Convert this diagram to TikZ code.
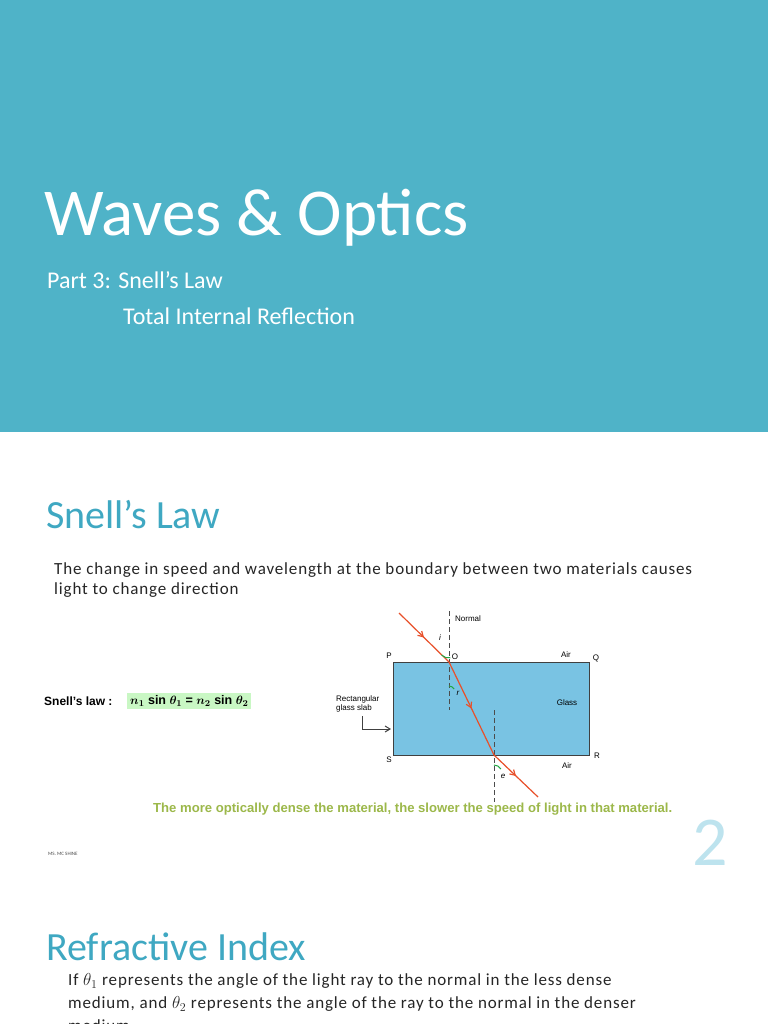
\documentclass[tikz,border=0pt]{standalone}
\usepackage{amsmath}
\usepackage{fontspec}
\setmainfont{Carlito}
\newfontfamily\arial{Liberation Sans}
\newfontfamily\bodyf[LetterSpace=5]{Carlito}
\usetikzlibrary{arrows.meta,decorations.markings}
\definecolor{band}{HTML}{4FB3C8}
\definecolor{head}{HTML}{3FA8C2}
\definecolor{glass}{HTML}{79C3E3}
\definecolor{ray}{HTML}{E8502A}
\definecolor{angc}{HTML}{22A845}
\definecolor{eqbg}{HTML}{C9F7C4}
\definecolor{olive}{HTML}{9CB84A}
\definecolor{numc}{HTML}{BDE3EE}
\begin{document}
\begin{tikzpicture}[x=1pt,y=-1pt,
  lbl/.style={font=\arial\fontsize{8}{9}\selectfont,inner sep=0pt},
  body/.style={font=\bodyf\fontsize{17}{20}\selectfont,anchor=west,inner sep=0pt,text=black!85},
  headt/.style={font=\fontsize{40}{44}\selectfont,anchor=west,inner sep=0pt,text=head},
  normal/.style={dashed,dash pattern=on 5pt off 3pt,line width=0.9pt,draw=black!70},
  mid/.style={postaction={decorate},decoration={markings,mark=at position 0.5 with {\arrow{Straight Barb[length=5pt,width=6pt]}}}}]
\useasboundingbox (0,0) rectangle (768,1024);
\fill[white] (0,0) rectangle (768,1024);
\fill[band] (0,0) rectangle (768,432);
\node[anchor=west,inner sep=0pt,text=white,font=\fontsize{67}{70}\selectfont] (title) at (44,218) {Waves \& Optics};
\node[anchor=west,inner sep=0pt,text=white,font=\fontsize{24}{28}\selectfont] (p3) at (47,280) {Part 3: Snell’s Law};
\node[anchor=west,inner sep=0pt,text=white,font=\fontsize{24}{28}\selectfont] (tir) at (123,316) {Total Internal Reflection};
\node[headt] (sl) at (46,515) {Snell’s Law};
\node[body] (t1) at (54,570) {The change in speed and wavelength at the boundary between two materials causes};
\node[body] (t2) at (54,590) {light to change direction};
% equation
\node[lbl,font=\arial\bfseries\fontsize{12}{14}\selectfont,anchor=west] (slw) at (44,701) {Snell’s law :};
\node[fill=eqbg,anchor=west,inner sep=3pt,font=\arial\bfseries\fontsize{12.5}{14}\selectfont] (eq) at (127,701) {$\boldsymbol{n_1}$ sin $\boldsymbol{\theta_1}$ = $\boldsymbol{n_2}$ sin $\boldsymbol{\theta_2}$};
% slab
\draw[fill=glass,draw=black!75,line width=1pt] (393,662) rectangle (589,755);
\coordinate (O) at (449,662);
\coordinate (X) at (494,755);
\coordinate (S0) at (399,613);
\coordinate (E) at (538,797);
\draw[normal] (449,611) -- (449,710);
\draw[normal] (494,710) -- (494,802);
\draw[ray,line width=1.2pt,mid] (S0) -- (O);
\draw[ray,line width=1.2pt,mid] (O) -- (X);
\draw[ray,line width=1.2pt,mid] (X) -- (E);
\draw[angc,line width=1pt] (441.5,655) arc[start angle=135,end angle=80,radius=10];
\draw[angc,line width=1pt] (449,686) arc[start angle=-90,end angle=-30,radius=6];
\draw[angc,line width=1pt] (494,765) arc[start angle=-90,end angle=-30,radius=8];
\node[lbl] (nl) at (468,619) {Normal};
\node[lbl,font=\arial\itshape\fontsize{8}{9}\selectfont] (il) at (440,638) {i};
\node[lbl] (ol) at (455,657) {O};
\node[lbl] (pl) at (389,656) {P};
\node[lbl] (ql) at (596,658) {Q};
\node[lbl] (air1) at (566,655) {Air};
\node[lbl] (gl) at (567,703) {Glass};
\node[lbl,font=\arial\itshape\fontsize{8}{9}\selectfont] (rl) at (458,693) {r};
\node[lbl] (rr) at (597,756) {R};
\node[lbl] (ss) at (389,760) {S};
\node[lbl] (air2) at (567,766) {Air};
\node[lbl,font=\arial\itshape\fontsize{8}{9}\selectfont] (el) at (503,776) {e};
\node[lbl,align=left,anchor=west] (rg) at (336,704) {Rectangular\\glass slab};
\coordinate (ar1) at (362,716);
\draw[-{Straight Barb[length=5pt,width=6pt]},line width=1pt,black!75] (ar1) -- (362,729) -- (391,729);
\node[anchor=west,inner sep=0pt,text=olive,font=\arial\bfseries\fontsize{13.1}{15}\selectfont] (dense) at (153,809) {The more optically dense the material, the slower the speed of light in that material.};
\node[anchor=west,inner sep=0pt,font=\fontsize{5}{6}\selectfont,text=black!70] (ms) at (48,854) {MS. MC SHINE};
\node[inner sep=0pt,text=numc,font=\fontsize{70}{74}\selectfont] (num) at (710,843) {2};
\node[headt] (ri) at (46,947) {Refractive Index};
\node[body] (b1) at (68,981) {If $\theta_1$ represents the angle of the light ray to the normal in the less dense};
\node[body] (b2) at (68,1004) {medium, and $\theta_2$ represents the angle of the ray to the normal in the denser};
\node[body] (b3) at (68,1026) {medium.};
\end{tikzpicture}
\end{document}
